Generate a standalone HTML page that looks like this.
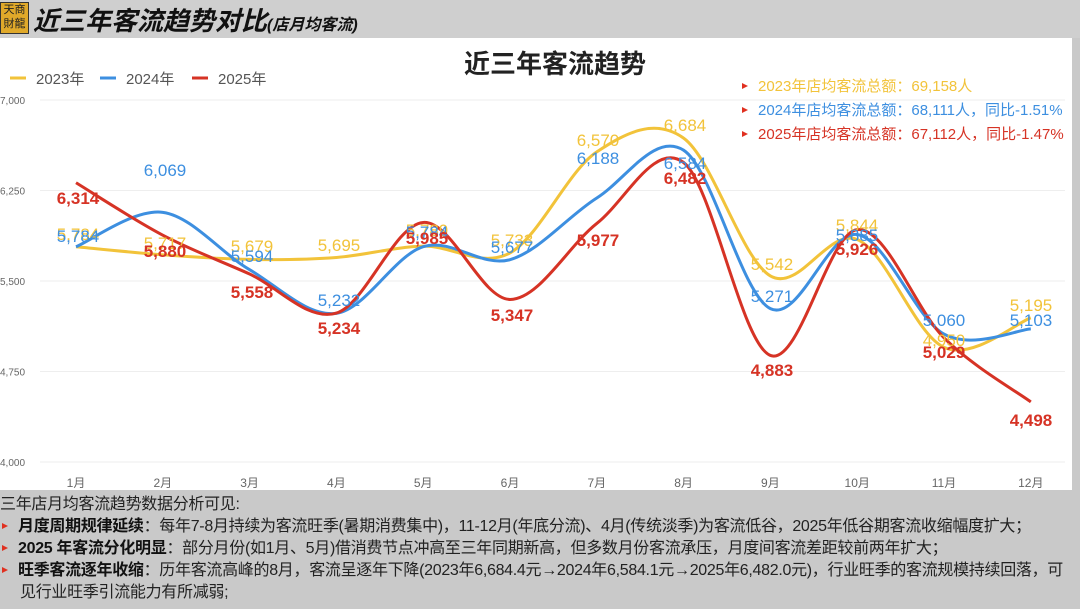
<!DOCTYPE html>
<html><head><meta charset="utf-8"><style>
body{margin:0;width:1080px;height:609px;overflow:hidden;background:#c9c9c9;font-family:"Liberation Sans","Noto Sans CJK SC",sans-serif;position:relative}
.hdr{position:absolute;left:0;top:0;width:1080px;height:38px;background:#cfcfcf}
.logo{position:absolute;left:0;top:2px;width:27px;height:30px;background:#e0a92a;border:1px solid #333;font-size:11px;line-height:14px;text-align:center;color:#222}
.ttl{position:absolute;left:33px;top:1px;font-size:26px;font-weight:bold;color:#111;font-style:italic}
.ttl span{font-size:16px}
.panel{position:absolute;left:0;top:38px;width:1072px;height:452px;background:#fff}
.txt{position:absolute;left:0;top:494px;font-size:16px;color:#222;line-height:22px;white-space:nowrap;letter-spacing:-0.3px}
.txt b{color:#111}
.tri{display:inline-block;width:0;height:0;border-left:6px solid #e03020;border-top:3.5px solid transparent;border-bottom:3.5px solid transparent;margin:0 10px 2px 2px}
</style></head><body>
<div class="hdr"></div>
<div class="logo">天商<br>財龍</div>
<div class="ttl">近三年客流趋势对比<span>(店月均客流)</span></div>
<div class="panel"></div>
<svg id="c" width="1080" height="609" style="position:absolute;left:0;top:0" font-family="Liberation Sans, Noto Sans CJK SC, sans-serif"></svg>
<div class="txt">三年店月均客流趋势数据分析可见:<br>
<span class="tri"></span><b>月度周期规律延续</b>：每年7-8月持续为客流旺季(暑期消费集中)，11-12月(年底分流)、4月(传统淡季)为客流低谷，2025年低谷期客流收缩幅度扩大；<br>
<span class="tri"></span><b>2025 年客流分化明显</b>：部分月份(如1月、5月)借消费节点冲高至三年同期新高，但多数月份客流承压，月度间客流差距较前两年扩大；<br>
<span class="tri"></span><b>旺季客流逐年收缩</b>：历年客流高峰的8月，客流呈逐年下降(2023年6,684.4元→2024年6,584.1元→2025年6,482.0元)，行业旺季的客流规模持续回落，可<br>
<span style="margin-left:20px"></span>见行业旺季引流能力有所减弱;</div>
<script>
const s=document.getElementById('c');let h='';
const X=i=>76+i*86.8, Y=v=>462-(v-4000)*362/3000;
[7000,6250,5500,4750,4000].forEach(v=>{h+=`<line x1="40" x2="1065" y1="${Y(v)}" y2="${Y(v)}" stroke="#eee"/><text x="0" y="${Y(v)+4}" font-size="10" fill="#666">${v.toLocaleString('en-US')}</text>`});
for(let i=0;i<12;i++)h+=`<text x="${X(i)}" y="487" font-size="12" fill="#666" text-anchor="middle">${i+1}月</text>`;
h+=`<text x="555" y="73" font-size="26" font-weight="bold" text-anchor="middle" fill="#222">近三年客流趋势</text>`;
const L=[['#f2c33a','2023年',10],['#3d8fe0','2024年',100],['#d63325',  '2025年',192]];
L.forEach(l=>{h+=`<line x1="${l[2]}" x2="${l[2]+16}" y1="78" y2="78" stroke="${l[0]}" stroke-width="3"/><text x="${l[2]+26}" y="84" font-size="15" fill="#555">${l[1]}</text>`});
const D=[[5784,5717,5679,5695,5789,5733,6570,6684,5542,5844,4950,5195],[5784,6069,5594,5232,5784,5677,6188,6584,5271,5885,5060,5103],[6314,5880,5558,5234,5985,5347,5977,6482,4883,5926,5029,4498]];
const P=[[[78,234],[165,243],[252,246],[339,245],[427,230],[512,240],[598,140],[685,125],[772,264],[857,225],[944,340],[1031,305]],
[[78,236],[165,170],[252,256],[339,300],[427,232],[512,247],[598,158],[685,163],[772,296],[857,235],[944,320],[1031,320]],
[[78,198],[165,251],[252,292],[339,328],[427,238],[512,315],[598,240],[685,178],[772,370],[857,249],[944,352],[1031,420]]];
D.forEach((d,k)=>{const p=d.map((v,i)=>[X(i),Y(v)]);let path=`M${p[0]}`;
for(let i=0;i<p.length-1;i++){const a=p[i-1]||p[i],b=p[i],c=p[i+1],e=p[i+2]||c;
path+=` C${b[0]+(c[0]-a[0])/6},${b[1]+(c[1]-a[1])/6} ${c[0]-(e[0]-b[0])/6},${c[1]-(e[1]-b[1])/6} ${c[0]},${c[1]}`}
h+=`<path d="${path}" fill="none" stroke="${L[k][0]}" stroke-width="3"/>`;});
D.forEach((d,k)=>d.forEach((v,i)=>{h+=`<text x="${P[k][i][0]}" y="${P[k][i][1]+6}" font-size="17" text-anchor="middle" fill="${L[k][0]}" ${k==2?'font-weight="bold"':''}>${v.toLocaleString('en-US')}</text>`}));
const A=[['#f2c33a','2023年店均客流总额：69,158人'],['#3d8fe0','2024年店均客流总额：68,111人，同比-1.51%'],['#d63325','2025年店均客流总额：67,112人，同比-1.47%']];
A.forEach((a,i)=>{const y=91+i*24;h+=`<polygon points="742,${y-8} 748,${y-5} 742,${y-2}" fill="#e03020"/><text x="758" y="${y}" font-size="15" fill="${a[0]}">${a[1]}</text>`});
s.innerHTML=h;
</script>
</body></html>
